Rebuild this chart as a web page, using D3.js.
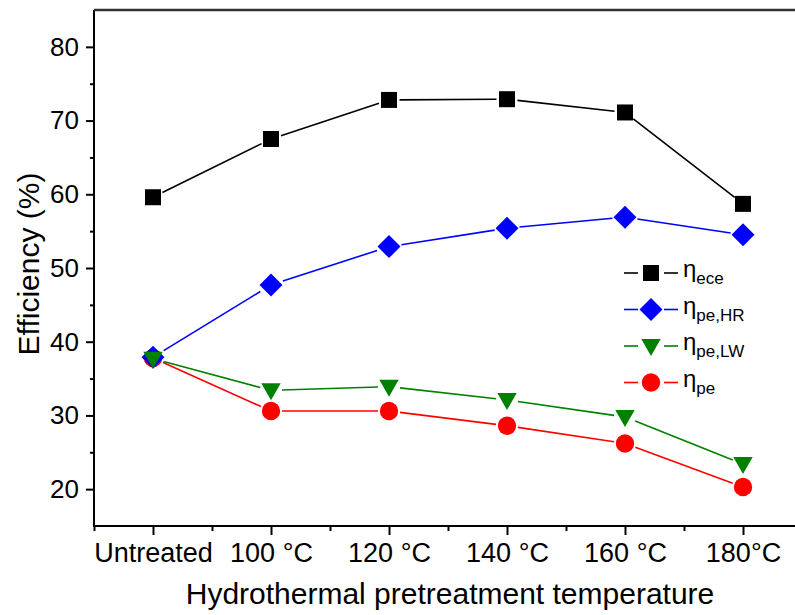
<!DOCTYPE html>
<html>
<head>
<meta charset="utf-8">
<style>
    body { margin: 0; background: #fff; }
    svg { display: block; font-family: 'Liberation Sans', Arial, sans-serif; }
    .axis .domain { display: none; }
    .axis text { fill: #000; }
</style>
</head>
<body>
<svg width="795" height="615"></svg>
<script src="https://d3js.org/d3.v7.min.js"></script>
<script>
    // categories on the x axis
    let categories = ["Untreated", "100 \u00B0C", "120 \u00B0C", "140 \u00B0C", "160 \u00B0C", "180\u00B0C"];

    // efficiency values (%)
    let etaEce  = [59.6, 67.5, 72.8, 72.9, 71.1, 58.7];
    let etaPeHR = [37.9, 47.7, 52.9, 55.4, 56.9, 54.5];
    let etaPeLW = [37.7, 33.4, 33.9, 32.1, 29.8, 23.4];
    let etaPe   = [37.8, 30.6, 30.6, 28.6, 26.2, 20.3];

    let yTicks = [20, 30, 40, 50, 60, 70, 80];
    let yMinorTicks = [25, 35, 45, 55, 65, 75];

    let series = [
        { key: "ece",   sub: "ece",   values: etaEce,  color: "#000000", shape: "square" },
        { key: "pe",    sub: "pe",    values: etaPe,   color: "#FF0000", shape: "circle" },
        { key: "peHR",  sub: "pe,HR", values: etaPeHR, color: "#0000FF", shape: "diamond" },
        { key: "peLW",  sub: "pe,LW", values: etaPeLW, color: "#008000", shape: "triangle" }
    ];
    let legendOrder = ["ece", "peHR", "peLW", "pe"];

    let margin = { top: 10, left: 94, bottom: 526 };
    let svg = d3.select("svg");

    let x = d3.scaleLinear()
        .domain([-0.5, categories.length - 0.5])
        .range([margin.left, 802]);

    let y = d3.scaleLinear()
        .domain([15, 85])
        .range([margin.bottom, margin.top]);

    // marker shapes, size in px
    function markerPath(shape) {
        if (shape == "square") return "M-8,-8H8V8H-8Z";
        if (shape == "diamond") return "M0,-11.5L11.5,0L0,11.5L-11.5,0Z";
        if (shape == "triangle") return "M-9.7,-7H9.7L0,10Z";
        return d3.arc()({ innerRadius: 0, outerRadius: 9.2, startAngle: 0, endAngle: 2 * Math.PI });
    }
    let gap = { square: 10.5, diamond: 12.5, triangle: 11, circle: 11 };

    // axes
    let xAxis = svg.append("g")
        .attr("class", "axis x")
        .attr("transform", `translate(0,${margin.bottom})`)
        .call(d3.axisBottom(x)
            .tickValues(d3.range(categories.length))
            .tickSize(9)
            .tickPadding(8)
            .tickFormat(i => categories[i]));
    xAxis.selectAll("text").style("font-size", "27px");
    xAxis.selectAll("line").attr("stroke", "#000").attr("stroke-width", 2);

    svg.append("g")
        .attr("class", "axis x-minor")
        .attr("transform", `translate(0,${margin.bottom})`)
        .call(d3.axisBottom(x)
            .tickValues(d3.range(categories.length + 1).map(i => i - 0.5))
            .tickSize(5)
            .tickFormat(""))
        .selectAll("line").attr("stroke", "#000").attr("stroke-width", 2);

    let yAxis = svg.append("g")
        .attr("class", "axis y")
        .attr("transform", `translate(${margin.left},0)`)
        .call(d3.axisLeft(y)
            .tickValues(yTicks)
            .tickSize(8)
            .tickPadding(7));
    yAxis.selectAll("text").style("font-size", "26px");
    yAxis.selectAll("line").attr("stroke", "#000").attr("stroke-width", 2);

    svg.append("g")
        .attr("class", "axis y-minor")
        .attr("transform", `translate(${margin.left},0)`)
        .call(d3.axisLeft(y)
            .tickValues(yMinorTicks)
            .tickSize(4)
            .tickFormat(""))
        .selectAll("line").attr("stroke", "#000").attr("stroke-width", 2);

    // frame lines
    svg.append("line")
        .attr("x1", margin.left).attr("x2", 802)
        .attr("y1", margin.bottom).attr("y2", margin.bottom)
        .attr("stroke", "#000").attr("stroke-width", 2);
    svg.append("line")
        .attr("x1", margin.left).attr("x2", margin.left)
        .attr("y1", margin.top).attr("y2", margin.bottom + 1)
        .attr("stroke", "#000").attr("stroke-width", 2);
    svg.append("line")
        .attr("x1", margin.left).attr("x2", 802)
        .attr("y1", margin.top).attr("y2", margin.top)
        .attr("stroke", "#333").attr("stroke-width", 2.5);

    // series: lines with gaps near markers, then markers
    series.forEach(s => {
        let pts = s.values.map((v, i) => [x(i), y(v)]);
        let g = svg.append("g");
        let segs = d3.pairs(pts).map(([a, b]) => {
            let dx = b[0] - a[0], dy = b[1] - a[1];
            let d = Math.sqrt(dx * dx + dy * dy);
            let k = gap[s.shape] / d;
            return [a[0] + dx * k, a[1] + dy * k, b[0] - dx * k, b[1] - dy * k];
        });
        g.selectAll("line")
            .data(segs)
            .join("line")
            .attr("x1", d => d[0]).attr("y1", d => d[1])
            .attr("x2", d => d[2]).attr("y2", d => d[3])
            .attr("stroke", s.color)
            .attr("stroke-width", 1.6);
        g.selectAll("path")
            .data(pts)
            .join("path")
            .attr("transform", d => `translate(${d[0]},${d[1]})`)
            .attr("d", markerPath(s.shape))
            .attr("fill", s.color);
    });

    // legend
    let legend = svg.append("g");
    legendOrder.forEach((key, i) => {
        let s = series.find(d => d.key == key);
        let ly = 273 + i * 36.5;
        let row = legend.append("g").attr("transform", `translate(651,${ly})`);
        row.append("line").attr("x1", -27).attr("x2", -13).attr("stroke", s.color).attr("stroke-width", 1.6);
        row.append("line").attr("x1", 13).attr("x2", 27).attr("stroke", s.color).attr("stroke-width", 1.6);
        row.append("path").attr("d", markerPath(s.shape)).attr("fill", s.color);
        let t = row.append("text")
            .attr("x", 32)
            .attr("y", 4)
            .style("font-size", "24px")
            .attr("fill", "#000");
        t.append("tspan").text("\u03B7");
        t.append("tspan")
            .attr("dy", 7)
            .style("font-size", "17px")
            .text(s.sub);
    });

    // axis titles
    svg.append("text")
        .attr("x", 450)
        .attr("y", 604)
        .attr("text-anchor", "middle")
        .style("font-size", "30px")
        .text("Hydrothermal pretreatment temperature");

    svg.append("text")
        .attr("transform", "translate(39,264) rotate(-90)")
        .attr("text-anchor", "middle")
        .style("font-size", "30px")
        .text("Efficiency (%)");
</script>
</body>
</html>
